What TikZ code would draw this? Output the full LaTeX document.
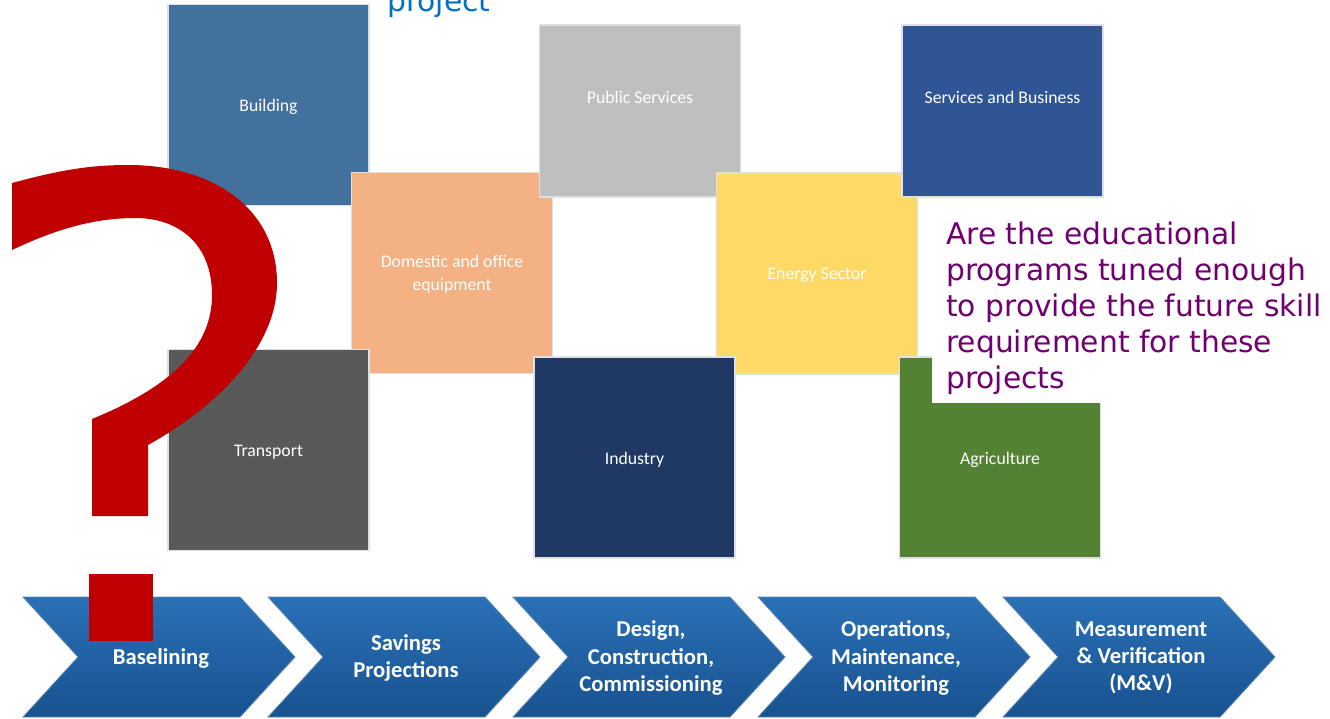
\documentclass[tikz,border=0pt]{standalone}
\usepackage{fontspec}
\setmainfont{Carlito}
\newfontfamily\verdfont{DejaVu Sans}
\usetikzlibrary{positioning}

\definecolor{bldblue}{RGB}{65,113,156}
\definecolor{pubgray}{RGB}{191,191,191}
\definecolor{svcblue}{RGB}{47,85,151}
\definecolor{domorange}{RGB}{244,177,131}
\definecolor{enyellow}{RGB}{255,217,102}
\definecolor{trgray}{RGB}{89,89,89}
\definecolor{indnavy}{RGB}{32,56,100}
\definecolor{agrgreen}{RGB}{84,130,53}
\definecolor{qred}{RGB}{192,0,0}
\definecolor{askpurple}{RGB}{112,0,112}
\definecolor{projblue}{RGB}{0,112,192}
\definecolor{chevtop}{RGB}{42,112,182}
\definecolor{chevbot}{RGB}{24,82,144}

\begin{document}
\begin{tikzpicture}[x=0.75pt, y=-0.75pt,
    secbox/.style={draw=black!12, line width=0.8pt, inner sep=0pt,
      minimum width=150.75pt, minimum height=150.75pt},
    flatbox/.style={secbox, minimum height=129pt},
    boxtext/.style={text=white, align=center, inner sep=0pt,
      font=\fontsize{13.3}{17.5}\selectfont},
    chevtext/.style={text=white, align=center,
      font=\bfseries\fontsize{17}{20.3}\selectfont},
    asktext/.style={text=askpurple, align=left, anchor=north west, inner sep=0pt,
      font=\verdfont\fontsize{22.3}{27}\selectfont}]
  \useasboundingbox (0,0) rectangle (1330,718);
  \newcommand{\chevstep}[3]
  {%
    \begin{scope}[shift={(#1,597)}]
      \draw[draw=chevbot!70!white, line width=0.6pt, top color=chevtop, bottom color=chevbot]
        (0,0) -- (217,0) -- (272,60) -- (217,120) -- (0,120) -- (55,60) -- cycle;
      \node[chevtext] (#2) at (138,61) {#3};
    \end{scope}%
  }%
  % top line cut off
  \node[text=projblue, anchor=base west, inner sep=0pt,
    font=\verdfont\fontsize{22.3}{27}\selectfont] (proj) at (387,11) {project};
  % sector boxes
  \node[secbox, fill=bldblue] (bld) at (268.5,105) {};
  \node[boxtext] (bldt) at ([yshift=-1.5pt]bld.center) {Building};
  \node[secbox, fill=domorange] (dom) at (452,273) {};
  \node[boxtext] (domt) at ([yshift=-1pt]dom.center) {Domestic and office\\equipment};
  \node[flatbox, fill=pubgray] (pub) at (640,111) {};
  \node[boxtext] (pubt) at ([yshift=10.5pt]pub.center) {Public Services};
  \node[secbox, fill=enyellow] (eng) at (817,273.5) {};
  \node[boxtext] (engt) at ([yshift=-1pt]eng.center) {Energy Sector};
  \node[flatbox, fill=svcblue] (svc) at (1002.5,111) {};
  \node[boxtext] (svct) at ([yshift=10.5pt]svc.center) {Services and Business};
  \node[secbox, fill=trgray] (trn) at (268.5,450) {};
  \node[boxtext] (trnt) at ([yshift=-1.5pt]trn.center) {Transport};
  \node[secbox, fill=indnavy] (ind) at (634.5,457.5) {};
  \node[boxtext] (indt) at ([yshift=-1.5pt]ind.center) {Industry};
  \node[secbox, fill=agrgreen] (agr) at (1000,457.5) {};
  \node[boxtext] (agrt) at ([yshift=-1.5pt]agr.center) {Agriculture};
  % question
  \fill[white] (932,203) rectangle (1330,403);
  \node[asktext] (ask) at (946,222) {Are the educational\\programs tuned enough\\to provide the future skill\\requirement for these\\projects};
  % process chevrons
  \chevstep{23}{base}{Baselining}
  \chevstep{268}{save}{Savings\\Projections}
  \chevstep{513}{design}{Design,\\Construction,\\Commissioning}
  \chevstep{758}{oper}{Operations,\\Maintenance,\\Monitoring}
  \chevstep{1003}{mv}{Measurement\\\& Verification\\(M\&V)}
  % big question mark
  \fill[qred] (12,183) .. controls (60,170) and (90,165) .. (128,165)
    .. controls (215,165) and (277,210) .. (277,283)
    .. controls (277,345) and (220,405) .. (148,445)
    -- (148,516) -- (92,516) -- (92,419)
    .. controls (175,385) and (212,345) .. (212,295)
    .. controls (212,245) and (180,218) .. (135,218)
    .. controls (90,218) and (50,232) .. (12,250) -- cycle;
  \fill[qred] (89,574) rectangle (153,641);
\end{tikzpicture}
\end{document}
